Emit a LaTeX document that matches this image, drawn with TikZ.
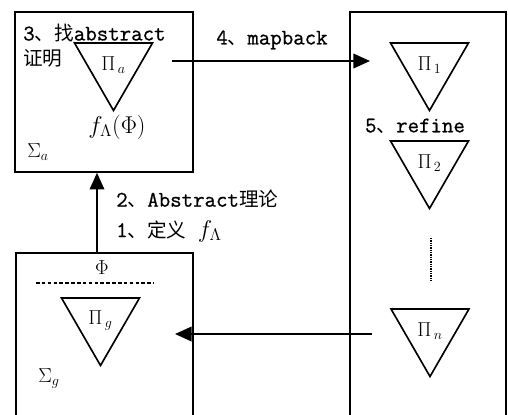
\documentclass[tikz,border=0pt]{standalone}
\usepackage[no-math]{fontspec}
\newfontfamily\labfont{Latin Modern Mono}[FakeBold=0.8]
\newfontfamily\cjk{Noto Sans CJK SC}[Scale=0.88]
\usetikzlibrary{shapes}
\usetikzlibrary{positioning}
\usetikzlibrary{arrows.meta}
\tikzset{
    box/.style = {rectangle, line width=1.4pt, draw=black, inner sep=0pt},
    proof/.style = {regular polygon, regular polygon sides=3, shape border rotate=180, line width=1.4pt, draw=black, minimum size=2.7cm, inner sep=0pt, font=\fontsize{17}{19}\selectfont},
    txt/.style = {inner sep=0pt, font=\labfont\fontsize{19}{21}\selectfont},
    mth/.style = {inner sep=0pt, font=\fontsize{17}{19}\selectfont},
    edgen/.style = {-{Triangle[length=5mm,width=4.4mm]}, line width=1.4pt},
    edged/.style = {line width=0.9pt, densely dashed},
    edget/.style = {line width=1pt, densely dotted},
}

\begin{document}
\begin{tikzpicture}[x=0.03cm, y=-0.03cm]
\useasboundingbox (0,0) rectangle (508,414);
\clip (0,0) rectangle (508,414);
%
\node[box, minimum width=5.34cm, minimum height=4.8cm] at (104,92) (boxA) {};
\node[box, minimum width=4.68cm, minimum height=12.84cm] at (428,226) (boxR) {};
\node[box, minimum width=5.31cm, minimum height=5.61cm] at (104.5,346.5) (boxG) {};
%
\node[proof] at (113.5,65.5) (pa) {$\Pi_{\,a}$};
\node[proof] at (429.5,65.5) (p1) {$\Pi_{\,1}$};
\node[proof] at (429.5,163.5) (p2) {$\Pi_{\,2}$};
\node[proof] at (430,331.5) (pn) {$\Pi_{\,n}$};
\node[proof] at (100.5,320.5) (pg) {$\Pi_{\,g}$};
%
\node[txt, anchor=west] at (23,33) (t3) {3{\cjk 、找}abstract};
\node[txt, anchor=west] at (23,58) (tz) {{\cjk 证明}};
\node[mth] at (117,127) (fa) {\fontsize{21}{24}\selectfont$f_\Lambda(\Phi)$};
\node[mth] at (38,152) (sa) {$\Sigma_{a}$};
\node[txt] at (272,40) (t4) {4{\cjk 、}mapback};
\node[txt] at (415,126) (t5) {5{\cjk 、}refine};
\node[txt, anchor=west] at (116,199) (t2) {2{\cjk 、}Abstract{\cjk 理论}};
\node[txt, anchor=west] at (116,231) (t1) {1{\cjk 、定义} \fontsize{22}{24}\selectfont$f_\Lambda$};
\node[mth] at (102,268) (phi) {$\Phi$};
\node[mth] at (49,378) (sg) {$\Sigma_{g}$};
%
\coordinate (mbs) at (172,61);
\coordinate (mbt) at (370,61);
\coordinate (rfs) at (372,334);
\coordinate (rft) at (175,334);
\coordinate (up) at (97,253);
\coordinate (dtop) at (431,238);
\coordinate (dbot) at (431,281);
\coordinate (dl) at (36,283);
\coordinate (dr) at (154,283);
%
\draw[edgen] (mbs) -- (mbt);
\draw[edgen] (rfs) -- (rft);
\draw[edgen] (up) -- (up |- boxA.south);
\draw[edget] (dtop) -- (dbot);
\draw[edged] (dl) -- (dr);

\end{tikzpicture}
\end{document}
